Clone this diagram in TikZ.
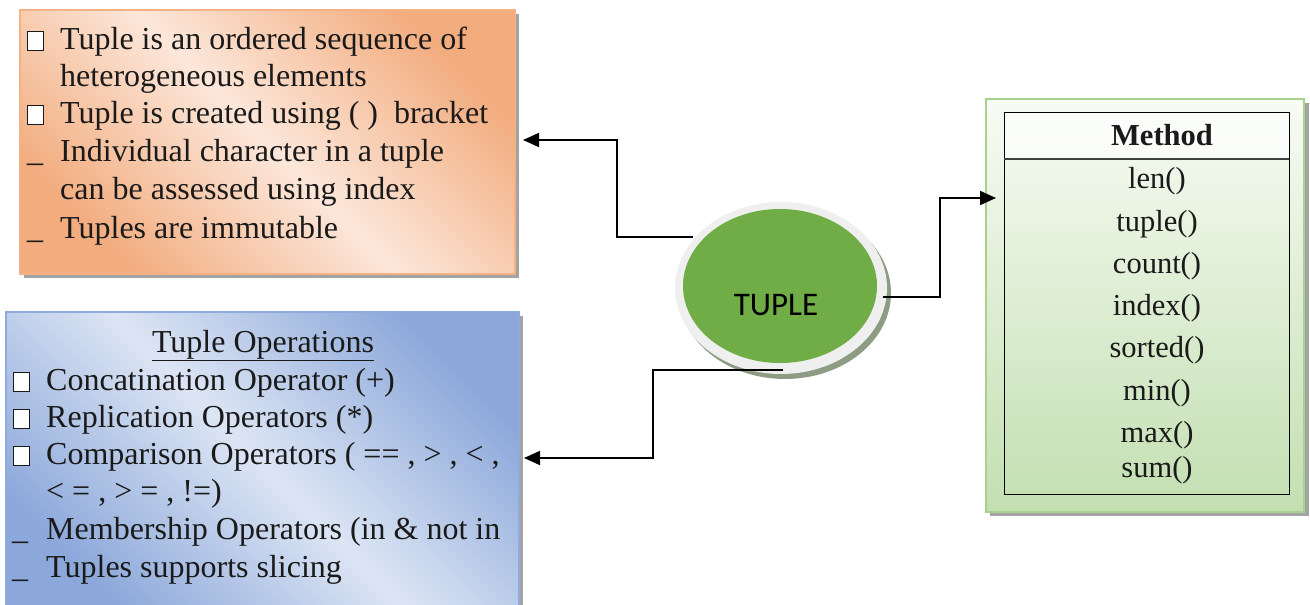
\documentclass[tikz,border=0pt]{standalone}
\usepackage{fontspec}
\setmainfont{Liberation Serif}
\newfontfamily\calfont{Carlito}
\usetikzlibrary{arrows.meta,shapes.geometric}
\definecolor{oLight}{HTML}{FCE7DA}
\definecolor{oDark}{HTML}{F2AC7E}
\definecolor{oBorder}{HTML}{F4B183}
\definecolor{bLight}{HTML}{DCE5F4}
\definecolor{bDark}{HTML}{8CA8DA}
\definecolor{bBorder}{HTML}{8FAADC}
\definecolor{gTop}{HTML}{F7FBF4}
\definecolor{gBot}{HTML}{C3DFB1}
\definecolor{gBorder}{HTML}{A9D18E}
\definecolor{tupGreen}{HTML}{70AD47}
\definecolor{rimGray}{HTML}{EFEFEF}
\definecolor{shadGray}{HTML}{A3A3A3}
\definecolor{ellShad}{HTML}{8E9C84}
\definecolor{txtCol}{HTML}{1A1A1A}
\tikzset{
  txt/.style={anchor=base west, inner sep=0pt, text=txtCol, font=\fontsize{32}{38}\selectfont},
  meth/.style={anchor=base, inner sep=0pt, text=txtCol, font=\fontsize{30.5}{36}\selectfont},
  sqm/.style={draw=txtCol, line width=0.8pt, fill=white},
  conn/.style={draw=black, line width=1.8pt, -{Triangle[length=16pt,width=14pt]}},
  boxshadow/.style={fill=shadGray},
}
\newcommand\boxmark[2]{\draw[sqm] (#1,#2-18) rectangle (#1+16,#2+1);}
\begin{document}
\begin{tikzpicture}[x=1pt,y=-1pt]
\useasboundingbox (0,0) rectangle (1310,605);
\clip (0,0) rectangle (1310,605);

% ---------- orange box ----------
\fill[boxshadow] (24,14) rectangle (519,278);
\path[draw=oBorder, line width=1.5pt, top color=oDark, bottom color=oDark, middle color=oLight, shading angle=-45]
  (20,10) rectangle (515,274);
\boxmark{27}{49}
\node[txt] (o1) at (60,49) {Tuple is an ordered sequence of};
\node[txt] (o2) at (60,86) {heterogeneous elements};
\boxmark{27}{123}
\node[txt] (o3) at (60,123) {Tuple is created using ( )\ \ bracket};
\node[txt] (u1) at (27,161) {\_};
\node[txt] (o4) at (60,161) {Individual character in a tuple};
\node[txt] (o5) at (60,199) {can be assessed using index};
\node[txt] (u2) at (27,238) {\_};
\node[txt] (o6) at (60,238) {Tuples are immutable};

% ---------- blue box ----------
\fill[boxshadow] (10,316) rectangle (523,620);
\path[draw=bBorder, line width=1.5pt, top color=bDark, bottom color=bDark, middle color=bLight, shading angle=-45]
  (6,312) rectangle (519,615);
\node[txt, anchor=base] (bh) at (263,352) {\underline{Tuple Operations}};
\boxmark{13}{390}
\node[txt] (b1) at (46,390) {Concatination Operator (+)};
\boxmark{13}{427}
\node[txt] (b2) at (46,427) {Replication Operators (*)};
\boxmark{13}{464}
\node[txt] (b3) at (46,464) {Comparison Operators ( == , > , < ,};
\node[txt] (b4) at (46,501) {< = , > = , !=)};
\node[txt] (u3) at (12,539) {\_};
\node[txt] (b5) at (46,539) {Membership Operators (in \& not in};
\node[txt] (u4) at (12,577) {\_};
\node[txt] (b6) at (46,577) {Tuples supports slicing};

% ---------- green method box ----------
\fill[boxshadow] (990,103) rectangle (1309,516);
\path[draw=gBorder, line width=2pt, top color=gTop, bottom color=gBot] (986,99) rectangle (1304,512);
\fill[white, opacity=0.7] (1004,112) rectangle (1289,159);
\draw[black, line width=1pt] (1004,112) rectangle (1289,494);
\draw[black!75, line width=1.2pt] (1004,159) -- (1289,159);
\node[meth, font=\fontsize{30.5}{36}\selectfont\bfseries] (mh) at (1162,145) {Method};
\node[meth] (m1) at (1157,188) {len()};
\node[meth] (m2) at (1157,231) {tuple()};
\node[meth] (m3) at (1157,273) {count()};
\node[meth] (m4) at (1157,315) {index()};
\node[meth] (m5) at (1157,357) {sorted()};
\node[meth] (m6) at (1157,400) {min()};
\node[meth] (m7) at (1157,442) {max()};
\node[meth] (m8) at (1157,477) {sum()};

% ---------- TUPLE ellipse ----------
\fill[ellShad] (785,293) ellipse [x radius=106, y radius=86];
\fill[rimGray] (781,288) ellipse [x radius=106, y radius=86];
\node[ellipse, fill=tupGreen, minimum width=194pt, minimum height=154pt, inner sep=0pt] (tuple) at (780,286) {};
\node[anchor=base, inner sep=0pt, font=\calfont\fontsize{33}{38}\selectfont, text=black] (tuplbl) at (776,315) {TUPLE};

% ---------- connectors ----------
\coordinate (t1) at (693,237);
\coordinate (j1) at (617,237);
\coordinate (a1) at (523,140);
\coordinate (t2) at (883,297);
\coordinate (j2) at (940,297);
\coordinate (a2) at (996,198);
\coordinate (t3) at (783,370);
\coordinate (j3) at (653,370);
\coordinate (a3) at (524,458);
\draw[conn] (t1) -- (j1) |- (a1);
\draw[conn] (t2) -- (j2) |- (a2);
\draw[conn] (t3) -- (j3) |- (a3);
\end{tikzpicture}
\end{document}
